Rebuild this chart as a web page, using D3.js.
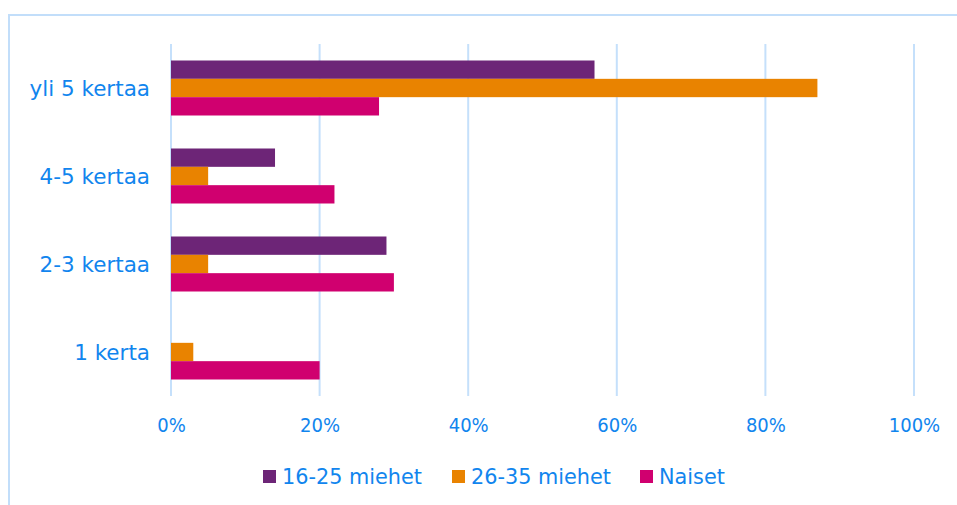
<!DOCTYPE html>
<html>
<head>
<meta charset="utf-8">
<script src="https://cdn.jsdelivr.net/npm/d3@7"></script>
<style>
  html, body { margin: 0; padding: 0; background: #ffffff; }
  svg { display: block; }
  text { font-family: "DejaVu Sans", sans-serif; fill: #1185ee; }
  .tick text { font-family: "DejaVu Sans Condensed", "DejaVu Sans", sans-serif; font-stretch: condensed; }
</style>
</head>
<body>
<svg id="chart" width="957" height="505"></svg>
<script>
// Categories (top to bottom) and share of respondents per group
const categories = ["yli 5 kertaa", "4-5 kertaa", "2-3 kertaa", "1 kerta"];
const seriesNames = ["16-25 miehet", "26-35 miehet", "Naiset"];
const men16to25 = [0.57, 0.14, 0.29, 0.00];
const men26to35 = [0.87, 0.05, 0.05, 0.03];
const women = [0.28, 0.22, 0.30, 0.20];
const tickValues = [0, 0.2, 0.4, 0.6, 0.8, 1.0];
const colors = ["#6d2577", "#e98300", "#d0006f"];

const seriesValues = [men16to25, men26to35, women];

const svg = d3.select("#chart");
const margin = { left: 171, right: 43, top: 44, bottom: 109 };
const W = 957, H = 505;

// Panel frame
svg.append("line").attr("x1", 9).attr("x2", W).attr("y1", 15).attr("y2", 15)
  .attr("stroke", "#c2defa").attr("stroke-width", 2);
svg.append("line").attr("x1", 9).attr("x2", 9).attr("y1", 14).attr("y2", H)
  .attr("stroke", "#c2defa").attr("stroke-width", 2);

const x = d3.scaleLinear().domain([0, 1]).range([margin.left, W - margin.right]);
const y = d3.scaleBand().domain(categories).range([margin.top, H - margin.bottom]).paddingInner(0.375).paddingOuter(0.1875);
const ySub = d3.scaleBand().domain(seriesNames).range([0, y.bandwidth()]);

// Vertical gridlines
svg.append("g").selectAll("line").data(tickValues).join("line")
  .attr("x1", d => x(d)).attr("x2", d => x(d))
  .attr("y1", margin.top).attr("y2", H - margin.bottom)
  .attr("stroke", "#c5e0fb").attr("stroke-width", 2);

// Bars
const groups = svg.append("g").selectAll("g").data(categories).join("g")
  .attr("transform", c => `translate(0,${y(c)})`);
groups.selectAll("rect")
  .data((c, i) => seriesNames.map((s, j) => ({ s, j, v: seriesValues[j][i] })))
  .join("rect")
  .filter(d => d.v > 0)
  .attr("x", x(0))
  .attr("y", d => ySub(d.s))
  .attr("width", d => x(d.v) - x(0))
  .attr("height", ySub.bandwidth())
  .attr("fill", d => colors[d.j]);

// Category labels
svg.append("g").selectAll("text").data(categories).join("text")
  .attr("x", 150).attr("y", c => y(c) + y.bandwidth() / 2)
  .attr("text-anchor", "end").attr("dominant-baseline", "central")
  .attr("font-size", 21.5).text(c => c);

// Percentage axis
const axis = d3.axisBottom(x).tickValues(tickValues).tickFormat(d3.format(".0%")).tickSize(0).tickPadding(0);
const ax = svg.append("g").attr("transform", `translate(0,425)`).call(axis);
ax.select(".domain").remove();
ax.attr("font-family", null).attr("font-size", null);
ax.selectAll("text").attr("font-size", 20).attr("dy", "0.35em").attr("fill", null);

// Legend
const legendX = [263, 452, 640];
const legend = svg.append("g").selectAll("g").data(seriesNames).join("g")
  .attr("transform", (d, i) => `translate(${legendX[i]},470)`);
legend.append("rect").attr("width", 13).attr("height", 13).attr("fill", (d, i) => colors[i]);
legend.append("text").attr("x", 19).attr("y", 6.5).attr("dominant-baseline", "central")
  .attr("font-size", 20.8).text(d => d);
</script>
</body>
</html>
